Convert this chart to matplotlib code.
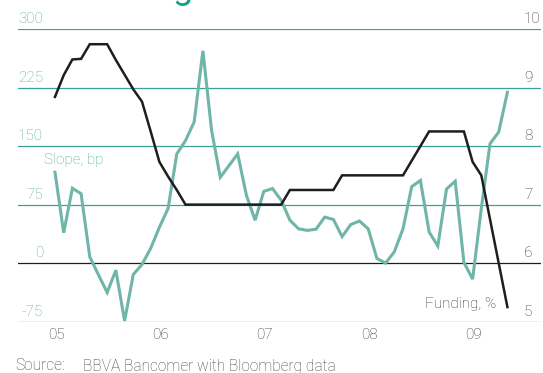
import numpy as np
import matplotlib
matplotlib.use("Agg")
import matplotlib.pyplot as plt

plt.rcParams["font.family"] = ["Roboto", "DejaVu Sans"]

# monthly observations, Jan 2005 .. May 2009
slope_bp = [116.5, 39, 96, 89, 8, -15, -37.5, -9, -74, -14.5,
            -1.7, 19, 46, 70, 140, 157, 181, 272, 170, 110,
            125, 140, 87, 55, 92, 95.6, 80.6, 55, 44, 42,
            43.5, 59, 56, 34, 49.5, 54, 44, 6, 0, 14.5,
            44, 98, 106, 40, 22, 95, 105, 1, -20.5, 70,
            153, 168, 219]
funding_pct = [8.84, 9.21, 9.48, 9.49, 9.74, 9.74, 9.74, 9.47, 9.22, 8.97,
               8.76, 8.25, 7.73, 7.48, 7.25, 7.0, 7.0, 7.0, 7.0, 7.0,
               7.0, 7.0, 7.0, 7.0, 7.0, 7.0, 7.0, 7.25, 7.25, 7.25,
               7.25, 7.25, 7.25, 7.5, 7.5, 7.5, 7.5, 7.5, 7.5, 7.5,
               7.5, 7.75, 8.0, 8.25, 8.25, 8.25, 8.25, 8.25, 7.73, 7.5,
               6.75, 6.0, 5.25]
year_labels = ["05", "06", "07", "08", "09"]
left_ticks = [300, 225, 150, 75, 0, -75]
right_ticks = [10, 9, 8, 7, 6, 5]

TEAL_GRID = "#3aa293"
TEAL_LINE = "#6fb5a8"
TEAL_TEXT = "#55aa9b"
DARK = "#333333"

W, H = 543, 373
fig = plt.figure(figsize=(W / 100, H / 100), dpi=100)
ax = fig.add_axes([18 / W, 1 - 321.7 / H, (541 - 18) / W, (321.7 - 29) / H])

months = np.arange(len(slope_bp))
ax.set_xlim(-4.25, 55.86)
ax.set_ylim(-75, 300)

# funding on the right scale: 5..10 % maps onto -75..300 bp
ax2 = ax.twinx()
ax2.set_ylim(5, 10)

for v in left_ticks:
    ax.axhline(v, color="#1e1e1e" if v == 0 else TEAL_GRID, lw=0.9, zorder=1)

ax.plot(months, slope_bp, color=TEAL_LINE, lw=2.2, solid_joinstyle="miter", zorder=3)
ax2.plot(months, funding_pct, color="#1e1e1e", lw=1.8, solid_joinstyle="miter", zorder=4)

for a in (ax, ax2):
    for s in a.spines.values():
        s.set_visible(False)
    a.set_xticks([])
    a.set_yticks([])

FS = 11
WEIGHT = "light"

# value labels sit just above each gridline
for v in left_ticks:
    ax.annotate(str(v), xy=(0, v), xycoords=("axes fraction", "data"),
                xytext=(25, 3), textcoords="offset pixels",
                ha="right", va="bottom", fontsize=FS, color=TEAL_TEXT,
                fontweight=WEIGHT)
for v in right_ticks:
    ax2.annotate(str(v), xy=(1, v), xycoords=("axes fraction", "data"),
                 xytext=(-17, 3), textcoords="offset pixels",
                 ha="left", va="bottom", fontsize=FS, color=DARK,
                 fontweight=WEIGHT)
for i, lab in enumerate(year_labels):
    ax.annotate(lab, xy=(i * 12, 0), xycoords=("data", "axes fraction"),
                xytext=(1, -6), textcoords="offset pixels",
                ha="center", va="top", fontsize=FS, color=DARK,
                fontweight=WEIGHT)

fig.text(44 / W, 1 - 160 / H, "Slope, bp", ha="left", va="center",
         fontsize=FS, color=TEAL_TEXT, fontweight=WEIGHT)
fig.text(496 / W, 1 - 304 / H, "Funding, %", ha="right", va="center",
         fontsize=FS, color=DARK, fontweight=WEIGHT)

fig.text(15 / W, 1 - 366 / H, "Source:", ha="left", va="center",
         fontsize=11.2, color="#444444", fontweight=WEIGHT)
fig.text(83 / W, 1 - 366 / H, "BBVA Bancomer with Bloomberg data", ha="left",
         va="center", fontsize=11.2, color="#444444", fontweight=WEIGHT)

# tail of the heading above the panel
fig.text(172 / W, 1 + 2 / H, "g", ha="left", va="baseline",
         fontsize=26, color="#12a08d")

fig.savefig("out.png", dpi=100)
